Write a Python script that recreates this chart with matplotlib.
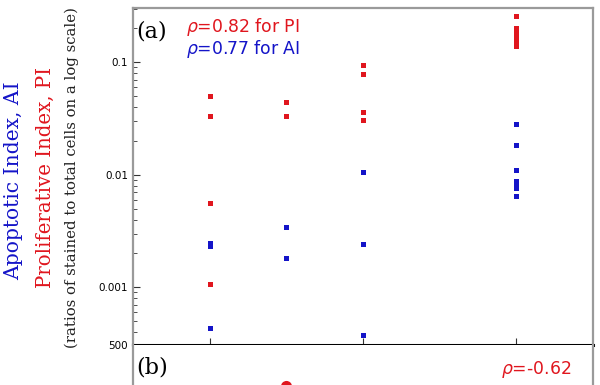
"""
Two-panel index plot: (a) PI and AI on a log scale, (b) top of the second panel
"""

import matplotlib
matplotlib.use('Agg')
from matplotlib import pyplot as plt
from matplotlib.ticker import FixedLocator, FixedFormatter, LogLocator, NullFormatter

# data (x is the group position)
PI_X = [1, 1, 1, 1, 2, 2, 3, 3, 3, 3, 5, 5, 5, 5, 5, 5, 5]
PI_Y = [0.0499, 0.0331, 0.00558, 0.00106,
        0.0441, 0.0331,
        0.094, 0.0782, 0.0359, 0.0305,
        0.258, 0.200, 0.185, 0.170, 0.157, 0.148, 0.139]
AI_X = [1, 1, 1, 2, 2, 3, 3, 3, 5, 5, 5, 5, 5, 5, 5]
AI_Y = [0.00246, 0.00231, 0.000432,
        0.00341, 0.00181,
        0.0107, 0.00241, 0.000374,
        0.0281, 0.0183, 0.01096, 0.00875, 0.00807, 0.00759, 0.00644]
B_X = [2]
B_Y = [440]

Y_TICKS = [0.001, 0.01, 0.1]
Y_TICK_LABELS = ['0.001', '0.01', '0.1']
X_TICKS = [1, 3, 5]

RED = '#e0161e'
BLUE = '#1414c8'
GRAY = '#9a9a9a'
SERIF = 'DejaVu Serif'


def style_axes(ax):
    for side in ['left', 'right', 'top', 'bottom']:
        ax.spines[side].set_color(GRAY)
        ax.spines[side].set_linewidth(1.6)
    ax.tick_params(which='both', direction='in', labelsize=7.5, color='#333333')


fig = plt.figure(figsize=(6, 3.85), dpi=100)
ax_a = fig.add_axes([0.2217, 0.1039, 0.7667, 0.8753])
ax_b = fig.add_axes([0.2217, 0.1039 - 0.883, 0.7667, 0.883])

# panel (a)
ax_a.plot(PI_X, PI_Y, 's', color=RED, markersize=3.6, markeredgewidth=0)
ax_a.plot(AI_X, AI_Y, 's', color=BLUE, markersize=3.6, markeredgewidth=0)
ax_a.set_yscale('log')
ax_a.set_xlim(0, 6)
ax_a.set_ylim(3.07e-4, 0.304)
ax_a.yaxis.set_major_locator(FixedLocator(Y_TICKS))
ax_a.yaxis.set_major_formatter(FixedFormatter(Y_TICK_LABELS))
ax_a.yaxis.set_minor_locator(LogLocator(base=10, subs=range(2, 10)))
ax_a.yaxis.set_minor_formatter(NullFormatter())
ax_a.set_xticks(X_TICKS)
ax_a.set_xticklabels([])
style_axes(ax_a)
ax_a.tick_params(axis='y', which='major', length=5, width=0.8)
ax_a.tick_params(axis='y', which='minor', length=3, width=0.6)
ax_a.tick_params(axis='x', top=False, length=5, width=0.8)
ax_a.spines['bottom'].set_color('black')
ax_a.spines['bottom'].set_linewidth(2.2)
ax_a.spines['bottom'].set_zorder(5)

ax_a.text(0.008, 0.93, '(a)', transform=ax_a.transAxes, family=SERIF,
          fontsize=16, va='center', ha='left')
ax_a.text(0.115, 0.945, r'$\rho$=0.82 for PI', transform=ax_a.transAxes,
          color=RED, fontsize=12.4, va='center', ha='left')
ax_a.text(0.115, 0.877, r'$\rho$=0.77 for AI', transform=ax_a.transAxes,
          color=BLUE, fontsize=12.4, va='center', ha='left')

# panel (b), mostly cut off at the bottom of the image
ax_b.plot(B_X, B_Y, 'o', color=RED, markersize=8, markeredgewidth=0)
ax_b.set_xlim(0, 6)
ax_b.set_ylim(0, 500)
ax_b.set_yticks([500])
ax_b.set_yticklabels(['500'])
ax_b.set_xticks(X_TICKS)
ax_b.set_xticklabels([])
style_axes(ax_b)
ax_b.tick_params(axis='x', length=0)
ax_b.tick_params(axis='y', length=0)
ax_b.spines['top'].set_visible(False)
ax_b.text(0.008, 0.935, '(b)', transform=ax_b.transAxes, family=SERIF,
          fontsize=16, va='center', ha='left')
ax_b.text(0.8, 0.928, r'$\rho$=-0.62', transform=ax_b.transAxes,
          color=RED, fontsize=12.4, va='center', ha='left')

# stacked y label
fig.text(0.022, 0.53, 'Apoptotic Index, AI', rotation=90, color=BLUE,
         family=SERIF, fontsize=14.6, ha='center', va='center')
fig.text(0.075, 0.54, 'Proliferative Index, PI', rotation=90, color=RED,
         family=SERIF, fontsize=14.2, ha='center', va='center')
fig.text(0.12, 0.54, '(ratios of stained to total cells on a log scale)',
         rotation=90, color='#222222', family=SERIF, fontsize=10.7,
         ha='center', va='center')

fig.savefig('out.png', dpi=100)
